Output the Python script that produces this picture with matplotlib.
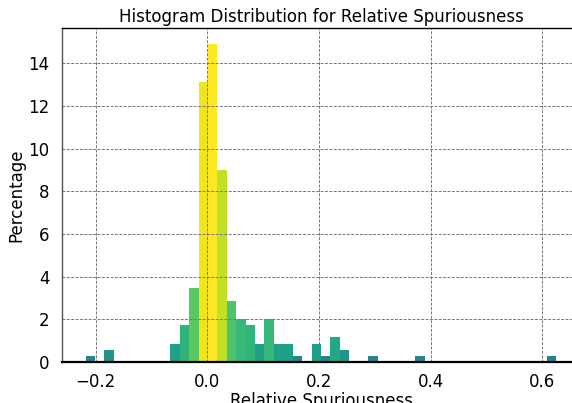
import numpy as np
import matplotlib
matplotlib.use("Agg")
import matplotlib.pyplot as plt

# Data: histogram of relative spuriousness (percentages per bin)
x_min, x_max, n_bins = -0.218, 0.625, 50
percentages = [
    0.29, 0.0, 0.57, 0.0, 0.0, 0.0, 0.0, 0.0, 0.0, 0.86,
    1.72, 3.45, 13.1, 14.9, 9.0, 2.87, 2.01, 1.72, 0.86, 2.01,
    0.86, 0.86, 0.29, 0.0, 0.86, 0.29, 1.15, 0.57, 0.0, 0.0,
    0.29, 0.0, 0.0, 0.0, 0.0, 0.29, 0.0, 0.0, 0.0, 0.0,
    0.0, 0.0, 0.0, 0.0, 0.0, 0.0, 0.0, 0.0, 0.0, 0.29,
]
x_ticks = [-0.2, 0.0, 0.2, 0.4, 0.6]
y_ticks = [0, 2, 4, 6, 8, 10, 12, 14]

edges = np.linspace(x_min, x_max, n_bins + 1)
heights = np.array(percentages)
widths = np.diff(edges)

fig = plt.figure(figsize=(5.72, 4.03), dpi=100)
ax = fig.add_axes([62 / 572, 41 / 403, 518 / 572, 334 / 403])

fracs = heights / heights.max()
colors = plt.cm.viridis(np.power(fracs, 0.2))
ax.bar(edges[:-1], heights, width=widths, align="edge", color=colors,
       linewidth=0, zorder=1)

ax.set_xticks(x_ticks)
ax.set_yticks(y_ticks)
ax.tick_params(length=0, labelsize=12)
ax.tick_params(axis="x", pad=8)
ax.tick_params(axis="y", pad=9)
ax.grid(True, linestyle=(0, (3, 1.5)), color="#777777", linewidth=0.7, zorder=2)
ax.set_axisbelow(False)

ax.spines["right"].set_visible(False)
ax.spines["top"].set_color("black")
ax.spines["top"].set_linewidth(1.0)
ax.spines["bottom"].set_color("black")
ax.spines["bottom"].set_linewidth(1.6)
ax.spines["left"].set_color("#555555")
ax.spines["left"].set_linewidth(1.0)
for s in ax.spines.values():
    s.set_zorder(3)

ax.set_title("Histogram Distribution for Relative Spuriousness", fontsize=12, pad=4)
ax.set_xlabel("Relative Spuriousness", fontsize=12, labelpad=1)
ax.set_ylabel("Percentage", fontsize=12, labelpad=2)

fig.savefig("out.png", dpi=100)
